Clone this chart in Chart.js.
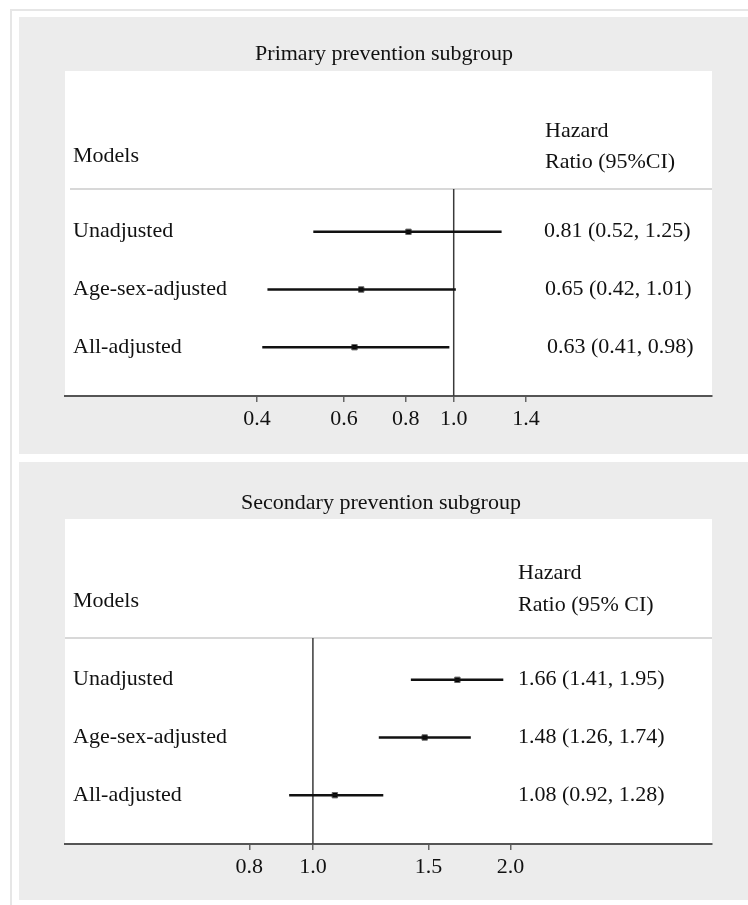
<!DOCTYPE html>
<html>
<head>
<meta charset="utf-8">
<script src="https://cdn.jsdelivr.net/npm/chart.js@4.4.1/dist/chart.umd.min.js"></script>
<style>
  body { margin: 0; background: #fff; width: 748px; height: 905px; position: relative; overflow: hidden; }
  .frame { position: absolute; left: 10px; top: 9px; width: 760px; height: 920px;
           border-left: 2px solid #e6e6e6; border-top: 2px solid #e6e6e6; }
  .panel { position: absolute; left: 19px; width: 729px; background: #ececec; }
  .panel canvas { display: block; }
  #p1 { top: 17px; height: 437px; }
  #p2 { top: 462px; height: 438px; }
</style>
</head>
<body>
<div class="frame"></div>
<div class="panel" id="p1"><canvas id="c1" width="729" height="437"></canvas></div>
<div class="panel" id="p2"><canvas id="c2" width="729" height="438"></canvas></div>
<script>
// ---------------- DATA ----------------

const models = ["Unadjusted", "Age-sex-adjusted", "All-adjusted"];

const primaryHR   = [0.81, 0.65, 0.63];
const primaryLow  = [0.52, 0.42, 0.41];
const primaryHigh = [1.25, 1.01, 0.98];
const primaryTicks = [0.4, 0.6, 0.8, 1.0, 1.4];

const secondaryHR   = [1.66, 1.48, 1.08];
const secondaryLow  = [1.41, 1.26, 0.92];
const secondaryHigh = [1.95, 1.74, 1.28];
const secondaryTicks = [0.8, 1.0, 1.5, 2.0];

const FONT = "'Liberation Serif', 'Times New Roman', serif";
const TEXT = "#111111";

// ---------------- TABLE TEXT PLUGIN ----------------

function tablePlugin(s, hr, low, high) {
  return {
    id: "forestTable",
    beforeDraw(chart) {
      let ctx = chart.ctx, a = chart.chartArea;
      ctx.save();
      ctx.fillStyle = "#ffffff";
      ctx.fillRect(a.left, a.top, a.right - a.left, a.bottom - a.top);
      ctx.restore();
    },
    beforeDatasetsDraw(chart) {
      let ctx = chart.ctx, a = chart.chartArea, x = chart.scales.x;
      let sepY = a.top + s.sepOff;
      ctx.save();
      // header separator
      ctx.strokeStyle = "#d8d8d8";
      ctx.lineWidth = 2;
      ctx.beginPath();
      ctx.moveTo(a.left + s.sepInset, sepY);
      ctx.lineTo(a.right, sepY);
      ctx.stroke();
      // no-effect line at HR = 1
      let refX = x.getPixelForValue(1);
      ctx.strokeStyle = "#3a3a3a";
      ctx.lineWidth = 1.5;
      ctx.beginPath();
      ctx.moveTo(refX, sepY);
      ctx.lineTo(refX, a.bottom);
      ctx.stroke();
      ctx.restore();
    },
    afterDraw(chart) {
      let ctx = chart.ctx, a = chart.chartArea, y = chart.scales.y;
      ctx.save();
      ctx.font = "22px " + FONT;
      ctx.fillStyle = TEXT;
      ctx.textBaseline = "alphabetic";

      ctx.textAlign = "center";
      ctx.fillText(s.title, s.titleX, s.titleY);

      ctx.textAlign = "left";
      ctx.fillText("Models", a.left + 8, a.top + s.modelsOff);
      ctx.fillText("Hazard", s.hrX, a.top + s.hazardOff);
      ctx.fillText(s.ratioLabel, s.hrX, a.top + s.ratioOff);

      models.forEach((m, i) => {
        let py = y.getPixelForValue(i) + 5.5;
        ctx.fillText(m, a.left + 8, py);
        let txt = `${hr[i].toFixed(2)} (${low[i].toFixed(2)}, ${high[i].toFixed(2)})`;
        ctx.fillText(txt, s.hrX + (s.valShift[i] || 0), py);
      });
      ctx.restore();
    }
  };
}

// ---------------- CHART ----------------

function forestChart(id, hr, low, high, ticks, s) {
  let ciLines = models.map((m, i) => ({
    data: [{ x: low[i], y: i }, { x: high[i], y: i }],
    showLine: true,
    borderColor: "#111",
    borderWidth: 2.6,
    pointRadius: 0
  }));

  let points = {
    data: hr.map((v, i) => ({ x: v, y: i })),
    pointStyle: "rect",
    pointRadius: 3.8,
    backgroundColor: "#000",
    borderColor: "#666",
    borderWidth: 1
  };

  return new Chart(document.getElementById(id), {
    type: "scatter",
    data: { datasets: [...ciLines, points] },
    options: {
      responsive: false,
      animation: false,
      layout: { padding: { left: 46, right: 36, top: s.top, bottom: 0 } },
      plugins: {
        legend: { display: false },
        tooltip: { enabled: false },
        title: { display: false }
      },
      scales: {
        x: {
          type: "logarithmic",
          min: s.xMin,
          max: s.xMax,
          afterBuildTicks: sc => { sc.ticks = ticks.map(v => ({ value: v })); },
          afterFit: sc => { sc.height = s.axisH; },
          border: { color: "#555", width: 2 },
          grid: { drawOnChartArea: false, drawTicks: true, tickLength: 6, color: "#666", lineWidth: 1.5 },
          ticks: {
            autoSkip: false,
            maxRotation: 0,
            padding: 4,
            color: TEXT,
            font: { family: FONT, size: 22 },
            callback: v => Number(v).toFixed(1)
          }
        },
        y: { type: "linear", reverse: true, min: -2.787, max: 2.846, display: false }
      }
    },
    plugins: [tablePlugin(s, hr, low, high)]
  });
}

forestChart("c1", primaryHR, primaryLow, primaryHigh, primaryTicks, {
  title: "Primary prevention subgroup",
  titleX: 365, titleY: 43,
  ratioLabel: "Ratio (95%CI)",
  top: 54, axisH: 58,
  xMin: 0.1636, xMax: 3.33,
  sepOff: 118, sepInset: 5,
  modelsOff: 91, hazardOff: 66, ratioOff: 97,
  hrX: 526, valShift: [-1, 0, 2]
});

forestChart("c2", secondaryHR, secondaryLow, secondaryHigh, secondaryTicks, {
  title: "Secondary prevention subgroup",
  titleX: 362, titleY: 47,
  ratioLabel: "Ratio (95% CI)",
  top: 57, axisH: 56,
  xMin: 0.4191, xMax: 4.055,
  sepOff: 119, sepInset: 0,
  modelsOff: 88, hazardOff: 60, ratioOff: 92,
  hrX: 499, valShift: [0, 0, 0]
});
</script>
</body>
</html>
